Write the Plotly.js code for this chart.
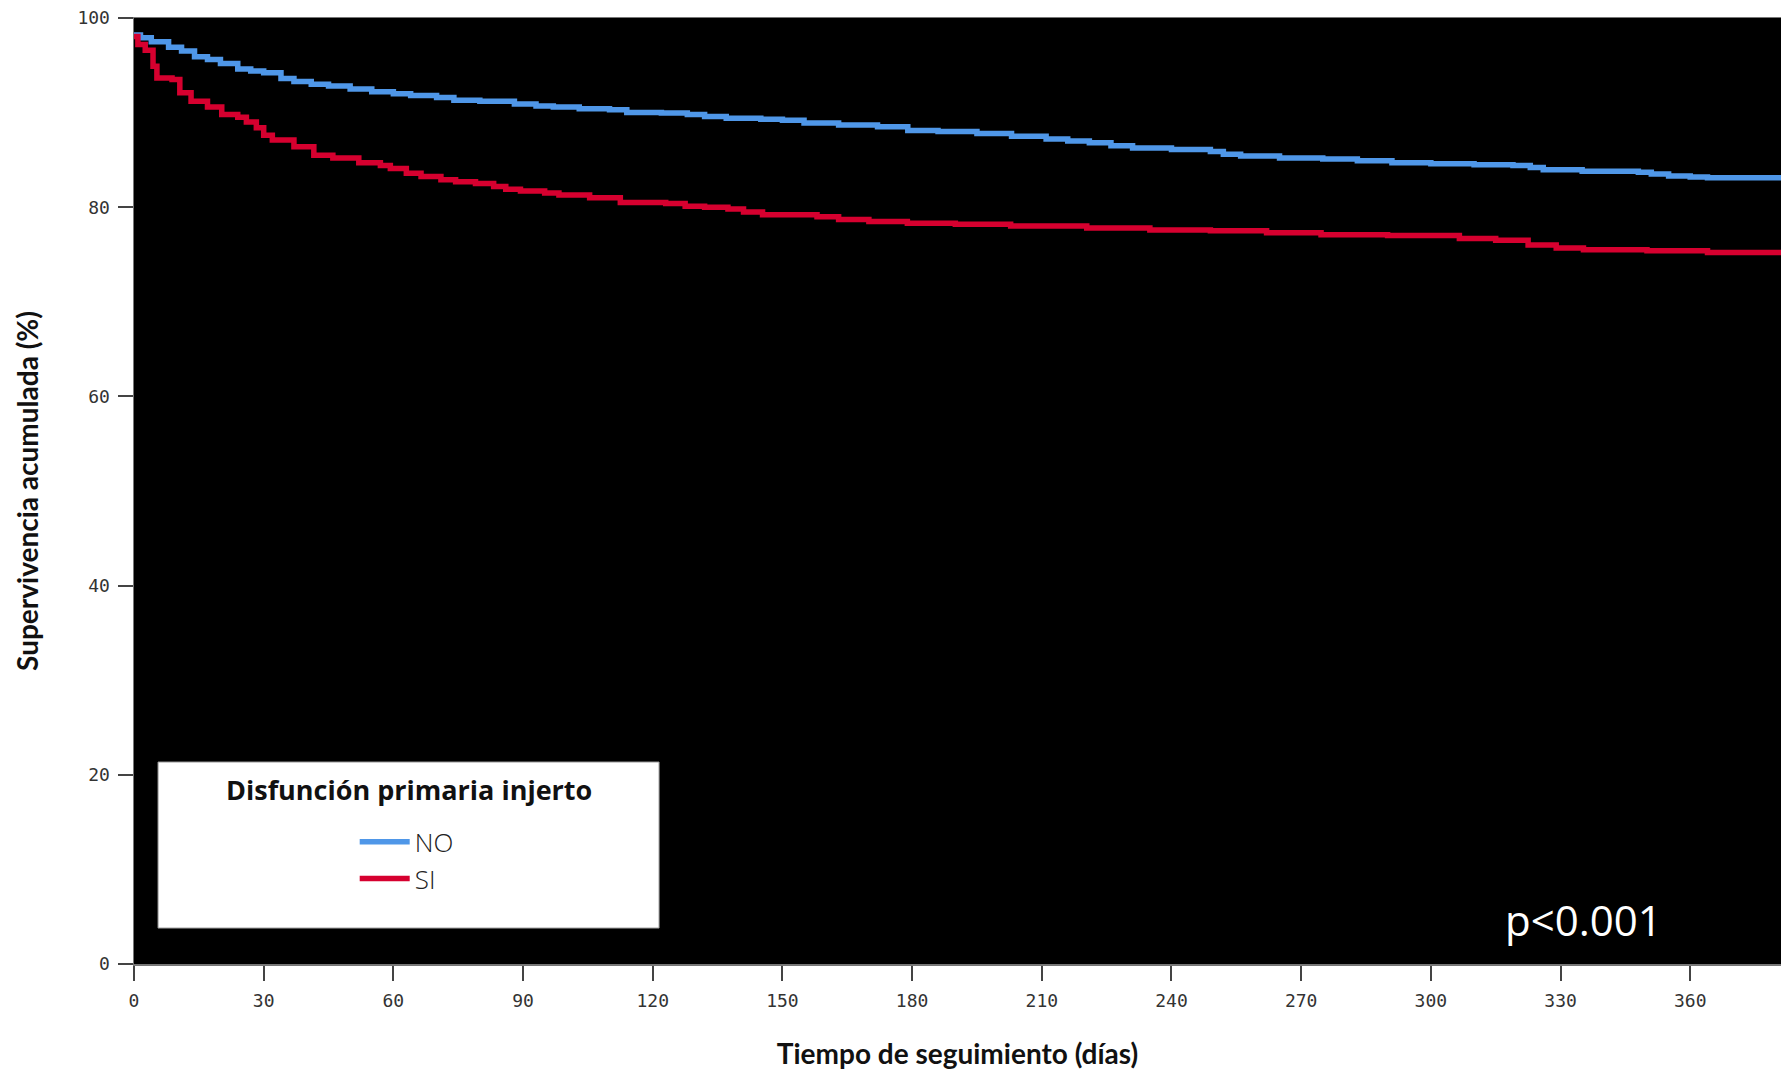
<!DOCTYPE html>
<html>
<head>
<meta charset="utf-8">
<script src="https://cdn.plot.ly/plotly-3.0.1.min.js"></script>
<style>html,body{margin:0;padding:0;background:#fff;}#chart{width:1781px;height:1070px;}</style>
</head>
<body>
<div id="chart"></div>
<script>
// Kaplan-Meier survival, group "NO"
const timeNO = [0, 1.5, 4, 8, 11, 14, 17, 20, 24, 27, 30, 34, 37, 41, 45, 50, 55, 60, 64, 70, 74, 80, 88, 93, 97, 103, 110, 114, 122, 128, 132, 137, 145, 150, 155, 163, 172, 179, 186, 195, 203, 211, 216, 221, 226, 231, 240, 249, 252, 256, 265, 275, 283, 291, 300, 310, 319, 323, 326, 335, 348, 351, 355, 360, 364, 381];
const survNO = [98.2, 97.9, 97.5, 96.9, 96.5, 95.9, 95.6, 95.2, 94.6, 94.4, 94.2, 93.6, 93.3, 93.0, 92.8, 92.5, 92.2, 92.0, 91.8, 91.6, 91.3, 91.2, 90.9, 90.7, 90.6, 90.4, 90.3, 90.0, 89.95, 89.8, 89.6, 89.4, 89.3, 89.2, 88.9, 88.7, 88.5, 88.1, 88.0, 87.8, 87.5, 87.2, 87.0, 86.8, 86.5, 86.25, 86.1, 85.9, 85.6, 85.4, 85.2, 85.1, 84.9, 84.7, 84.6, 84.5, 84.4, 84.2, 83.96, 83.8, 83.7, 83.5, 83.3, 83.2, 83.1, 83.1];
// Kaplan-Meier survival, group "SI"
const timeSI = [0, 0.9, 2.6, 4.4, 5.3, 8.8, 10.6, 13.2, 17, 20.3, 24, 26, 28.3, 30, 32, 37, 41.6, 46, 52, 57, 59.3, 63, 66.4, 71, 74.4, 79, 83.2, 86, 89.4, 95, 98.3, 105.4, 112.5, 123, 127.5, 132, 137.4, 141, 145.4, 158, 163, 170, 178.9, 190, 202.8, 220.4, 235, 249, 262, 274.6, 290, 306.6, 315, 322.5, 329, 335.3, 350, 364, 381];
const survSI = [98.05, 97.2, 96.6, 94.9, 93.65, 93.5, 92.1, 91.2, 90.6, 89.8, 89.5, 89.0, 88.4, 87.6, 87.1, 86.4, 85.5, 85.2, 84.7, 84.4, 84.1, 83.6, 83.25, 82.9, 82.7, 82.5, 82.2, 81.9, 81.7, 81.5, 81.3, 81.0, 80.5, 80.4, 80.1, 80.0, 79.8, 79.5, 79.2, 79.0, 78.7, 78.5, 78.3, 78.2, 78.0, 77.8, 77.6, 77.5, 77.3, 77.1, 77.0, 76.7, 76.5, 76.0, 75.7, 75.5, 75.4, 75.2, 75.2];

const xTicks = [0, 30, 60, 90, 120, 150, 180, 210, 240, 270, 300, 330, 360];
const yTicks = [0, 20, 40, 60, 80, 100];
const groupNames = ["NO", "SI"];
const legendTitle = "Disfunción primaria injerto";
const xTitle = "Tiempo de seguimiento (días)";
const yTitle = "Supervivencia acumulada (%)";
const pText = "p<0.001";

const traces = [
  {x: timeNO, y: survNO, name: groupNames[0], type: 'scatter', mode: 'lines',
   line: {shape: 'hv', color: '#4F97E8', width: 5.5}},
  {x: timeSI, y: survSI, name: groupNames[1], type: 'scatter', mode: 'lines',
   line: {shape: 'hv', color: '#D6002F', width: 5.5}}
];

const tickFont = {family: 'DejaVu Sans Mono', size: 18, color: '#333'};
const titleFont = {family: 'Lato', size: 28, color: '#111', weight: 'bold'};

const layout = {
  width: 1781, height: 1070,
  margin: {l: 134, r: 0, t: 18, b: 106},
  paper_bgcolor: '#ffffff',
  plot_bgcolor: '#000000',
  showlegend: true,
  xaxis: {
    range: [0, 381], tickvals: xTicks, ticktext: xTicks.map(String),
    showgrid: false, zeroline: false, showline: true, linecolor: '#777', linewidth: 1.5, mirror: true,
    ticks: 'outside', ticklen: 15, tickwidth: 2, tickcolor: '#444',
    tickfont: tickFont, ticklabelstandoff: 5,
    title: {text: xTitle, font: titleFont, standoff: 35}
  },
  yaxis: {
    range: [0, 100], tickvals: yTicks, ticktext: yTicks.map(String),
    showgrid: false, zeroline: false, showline: true, linecolor: '#777', linewidth: 1.5,
    ticks: 'outside', ticklen: 15, tickwidth: 2, tickcolor: '#444',
    tickfont: tickFont, ticklabelstandoff: 4,
    title: {text: yTitle, font: titleFont, standoff: 30}
  },
  legend: {
    x: 0.134, xanchor: 'left', y: 0.154, yanchor: 'top',
    bgcolor: 'rgba(0,0,0,0)', borderwidth: 0,
    font: {family: 'Open Sans', size: 26, color: '#222', weight: 300},
    itemwidth: 50, tracegroupgap: 0
  },
  shapes: [
    {type: 'rect', xref: 'paper', yref: 'paper', x0: 0.0146, x1: 0.3188, y0: 0.038, y1: 0.2135,
     fillcolor: '#ffffff', line: {color: '#999', width: 1}, layer: 'above'}
  ],
  annotations: [
    {xref: 'paper', yref: 'paper', x: 0.167, y: 0.184, text: '<b>' + legendTitle + '</b>', showarrow: false,
     font: {family: 'Open Sans', size: 27, color: '#111'}, xanchor: 'center', yanchor: 'middle'},
    {xref: 'paper', yref: 'paper', x: 0.880, y: 0.0475, text: pText, showarrow: false,
     font: {family: 'Open Sans', size: 42, color: '#ffffff'}, xanchor: 'center', yanchor: 'middle'}
  ]
};

Plotly.newPlot('chart', traces, layout, {staticPlot: true, displayModeBar: false});
</script>
</body>
</html>
